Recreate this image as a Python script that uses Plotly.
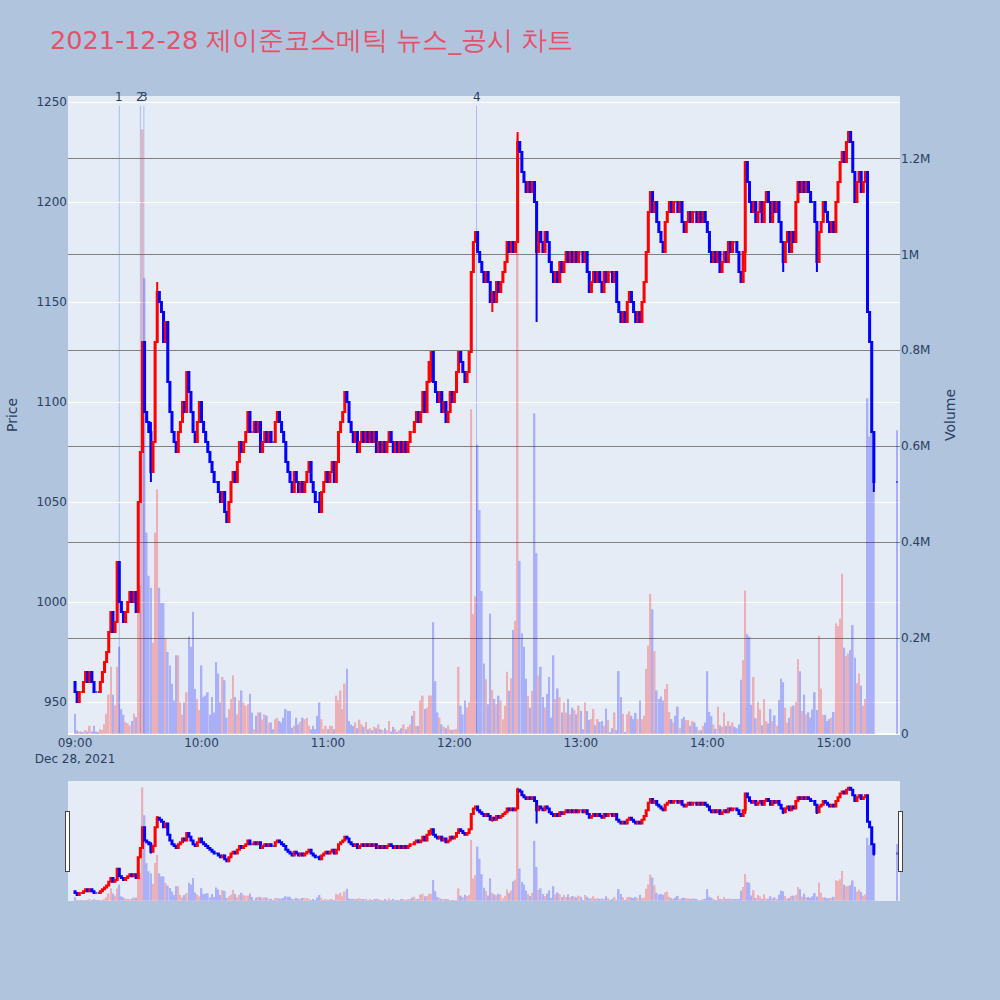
import pandas as pd
import plotly.graph_objects as go

# 1분봉 종가 09:00 ~ 15:19 (한 줄에 10분)
closes = [
    955, 950, 955, 955, 960, 965, 960, 965, 960, 955,
    955, 955, 960, 965, 970, 975, 985, 995, 985, 990,
    1020, 1000, 995, 990, 995, 1000, 1005, 1000, 1005, 995,
    1050, 1075, 1130, 1095, 1090, 1085, 1065, 1080, 1130, 1155,
    1150, 1145, 1130, 1140, 1110, 1095, 1085, 1080, 1075, 1085,
    1090, 1100, 1095, 1115, 1105, 1095, 1085, 1080, 1090, 1100,
    1090, 1085, 1080, 1075, 1070, 1065, 1060, 1060, 1055, 1050,
    1055, 1045, 1040, 1050, 1060, 1065, 1060, 1070, 1080, 1075,
    1080, 1085, 1095, 1085, 1085, 1090, 1085, 1090, 1075, 1080,
    1085, 1080, 1085, 1080, 1080, 1090, 1095, 1090, 1085, 1080,
    1070, 1065, 1060, 1055, 1065, 1060, 1055, 1060, 1055, 1060,
    1065, 1070, 1060, 1055, 1050, 1050, 1045, 1055, 1060, 1065,
    1060, 1065, 1070, 1060, 1070, 1085, 1090, 1095, 1105, 1100,
    1090, 1085, 1080, 1085, 1075, 1080, 1085, 1080, 1085, 1080,
    1085, 1080, 1085, 1075, 1080, 1075, 1080, 1075, 1080, 1085,
    1080, 1075, 1080, 1075, 1080, 1075, 1080, 1075, 1080, 1085,
    1085, 1090, 1095, 1090, 1095, 1105, 1095, 1110, 1120, 1125,
    1110, 1105, 1100, 1105, 1095, 1100, 1090, 1095, 1105, 1100,
    1105, 1115, 1125, 1120, 1115, 1110, 1115, 1125, 1165, 1180,
    1185, 1175, 1170, 1165, 1160, 1165, 1160, 1150, 1155, 1150,
    1160, 1155, 1160, 1165, 1170, 1180, 1175, 1180, 1175, 1180,
    1230, 1225, 1215, 1210, 1205, 1210, 1205, 1210, 1200, 1175,
    1185, 1180, 1175, 1185, 1180, 1170, 1165, 1160, 1165, 1160,
    1170, 1165, 1170, 1175, 1170, 1175, 1170, 1175, 1170, 1175,
    1175, 1170, 1175, 1165, 1155, 1160, 1165, 1160, 1165, 1160,
    1155, 1165, 1160, 1165, 1165, 1160, 1165, 1150, 1145, 1140,
    1145, 1140, 1150, 1155, 1150, 1145, 1140, 1145, 1140, 1150,
    1160, 1175, 1195, 1205, 1195, 1200, 1190, 1185, 1180, 1175,
    1190, 1195, 1200, 1195, 1200, 1200, 1195, 1200, 1190, 1185,
    1190, 1195, 1190, 1195, 1195, 1190, 1195, 1190, 1195, 1190,
    1185, 1175, 1170, 1175, 1170, 1175, 1165, 1170, 1175, 1170,
    1180, 1175, 1180, 1180, 1175, 1165, 1160, 1175, 1220, 1210,
    1200, 1195, 1200, 1190, 1195, 1200, 1190, 1200, 1205, 1200,
    1190, 1200, 1195, 1200, 1190, 1180, 1170, 1180, 1185, 1175,
    1185, 1180, 1200, 1210, 1205, 1210, 1205, 1210, 1205, 1200,
    1200, 1190, 1170, 1185, 1190, 1200, 1195, 1190, 1185, 1190,
    1185, 1200, 1210, 1220, 1225, 1220, 1230, 1235, 1230, 1215,
    1200, 1210, 1215, 1205, 1210, 1215, 1145, 1130, 1085, 1060,
]
close_1530 = 1060
first_open = 960

# 거래량 (천주), 같은 순서
volumes_k = [
    42, 8, 5, 5, 3, 8, 5, 17, 5, 17,
    5, 3, 10, 8, 20, 42, 82, 140, 82, 60,
    140, 182, 52, 40, 25, 22, 18, 27, 42, 35,
    485, 310, 1260, 950, 420, 330, 305, 190, 420, 510,
    305, 273, 273, 200, 171, 143, 105, 70, 164, 164,
    66, 40, 66, 87, 203, 182, 255, 94, 73, 50,
    143, 77, 80, 87, 40, 77, 45, 150, 126, 66,
    119, 112, 34, 52, 73, 122, 77, 41, 70, 91,
    66, 59, 62, 84, 45, 10, 38, 45, 45, 30,
    41, 38, 24, 24, 10, 31, 34, 27, 24, 34,
    52, 48, 48, 13, 17, 34, 20, 25, 34, 31,
    34, 17, 10, 17, 10, 38, 66, 31, 10, 17,
    10, 17, 17, 10, 80, 70, 91, 52, 105, 136,
    27, 20, 17, 24, 12, 30, 20, 15, 25, 10,
    12, 8, 15, 12, 20, 10, 8, 12, 8, 27,
    5, 15, 10, 3, 8, 12, 20, 10, 15, 20,
    38, 48, 17, 17, 70, 80, 52, 55, 80, 80,
    233, 110, 45, 34, 20, 15, 12, 18, 10, 8,
    10, 10, 140, 59, 41, 70, 55, 66, 677, 250,
    287, 603, 467, 298, 147, 114, 62, 251, 92, 73,
    62, 80, 70, 31, 59, 130, 90, 116, 217, 236,
    1250, 361, 210, 182, 115, 79, 55, 90, 668, 377,
    122, 140, 77, 55, 84, 119, 34, 164, 73, 95,
    77, 45, 66, 45, 73, 41, 55, 50, 41, 59,
    48, 10, 66, 48, 29, 31, 52, 18, 31, 25,
    27, 17, 53, 29, 4, 12, 45, 8, 131, 77,
    42, 4, 41, 47, 38, 31, 44, 31, 70, 31,
    38, 136, 184, 292, 260, 173, 91, 73, 78, 70,
    94, 104, 46, 31, 24, 38, 57, 13, 32, 36,
    29, 29, 17, 27, 24, 15, 8, 8, 17, 24,
    131, 46, 37, 20, 11, 57, 18, 15, 45, 17,
    27, 17, 24, 15, 12, 20, 113, 154, 299, 208,
    203, 61, 119, 33, 67, 51, 18, 73, 27, 22,
    52, 27, 39, 17, 71, 115, 108, 55, 24, 34,
    57, 59, 67, 156, 131, 48, 82, 41, 45, 34,
    51, 87, 50, 205, 95, 40, 40, 27, 31, 34,
    46, 231, 225, 240, 334, 180, 163, 168, 175, 227,
    159, 106, 126, 101, 59, 73, 700, 620, 640, 600,
]
volume_1530_k = 633

# 몸통 밖으로 튀어나온 꼬리: 분 번호, 저가, 고가
wick_minute = [36, 39, 116, 169, 198, 210, 219, 266, 273, 318, 336, 352, 367, 379]
wick_low = [1060, 1130, 1045, 1110, 1145, 1180, 1140, 1140, 1195, 1165, 1165, 1165, 1230, 1055]
wick_high = [1090, 1160, 1055, 1125, 1155, 1235, 1200, 1145, 1205, 1220, 1180, 1190, 1235, 1085]

# 뉴스/공시 시각
news_times = ['2021-12-28 09:21:00', '2021-12-28 09:31:00',
              '2021-12-28 09:32:40', '2021-12-28 12:10:30']
news_labels = ['1', '2', '3', '4']

#데이터프레임 구성
times = list(pd.date_range('2021-12-28 09:00', periods=len(closes), freq='min'))
times.append(pd.Timestamp('2021-12-28 15:30'))
df = pd.DataFrame({'Close': closes + [close_1530]}, index=times)
df['Open'] = [first_open] + df['Close'].tolist()[:-1]
df['High'] = df[['Open', 'Close']].max(axis=1)
df['Low'] = df[['Open', 'Close']].min(axis=1)
for m, lo, hi in zip(wick_minute, wick_low, wick_high):
    df.iloc[m, df.columns.get_loc('Low')] = min(df['Low'].iloc[m], lo)
    df.iloc[m, df.columns.get_loc('High')] = max(df['High'].iloc[m], hi)
df['Volume'] = [v * 1000 for v in volumes_k + [volume_1530_k]]
vol_colors = ['red' if c > o else 'blue' for o, c in zip(df['Open'], df['Close'])]

fig = go.Figure()
fig.add_trace(go.Bar(x=df.index, y=df['Volume'], marker=dict(color=vol_colors, line_width=0),
                     opacity=0.25, yaxis='y', name='Volume'))
fig.add_trace(go.Candlestick(x=df.index, open=df['Open'], high=df['High'], low=df['Low'],
                             close=df['Close'], yaxis='y2', name='Price',
                             increasing=dict(line=dict(color='red'), fillcolor='red'),
                             decreasing=dict(line=dict(color='blue'), fillcolor='blue')))

for t, label in zip(news_times, news_labels):
    fig.add_shape(type='line', x0=t, x1=t, xref='x', y0=0, y1=0.985, yref='paper',
                  line=dict(color='rgba(80,120,230,0.4)', width=1), layer='below')
    fig.add_annotation(x=t, y=0.985, xref='x', yref='paper', text=label, showarrow=False,
                       yanchor='bottom', font=dict(size=12, color='#2a3f5f'))

fig.update_layout(
    title=dict(text='2021-12-28 제이준코스메틱 뉴스_공시 차트', x=0.05, xanchor='left',
               y=0.96, yanchor='middle', font=dict(size=25.5, color='#e8506a')),
    font=dict(family='DejaVu Sans'),
    width=1000, height=1000,
    paper_bgcolor='lightsteelblue', plot_bgcolor='#e5ecf6',
    margin=dict(l=68, r=100, t=96, b=100),
    showlegend=False,
    xaxis=dict(type='date', range=['2021-12-28 08:56:40', '2021-12-28 15:31:25'],
               rangeslider=dict(visible=True, thickness=0.149, bgcolor='#e5ecf6')),
    yaxis=dict(title='Volume', side='right', range=[0, 1330000], gridcolor='gray',
               showgrid=True, zeroline=True, zerolinecolor='white'),
    yaxis2=dict(title='Price', side='left', overlaying='y', range=[934, 1253],
                gridcolor='white', showgrid=True),
)
fig.write_html("out.html", config={'displayModeBar': False},
               post_script="document.body.style.margin='0px';")
